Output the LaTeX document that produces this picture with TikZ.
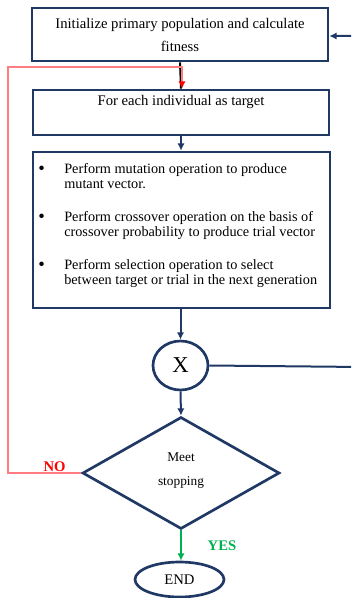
\documentclass[tikz,border=0pt]{standalone}
\usepackage{fontspec}
\setmainfont{Liberation Serif}
\usetikzlibrary{shapes.geometric,arrows.meta}
\definecolor{navy}{HTML}{1F3864}
\definecolor{pinkred}{HTML}{FF7C80}
\definecolor{yesgreen}{HTML}{00B050}
\newcommand{\bigbul}{\raisebox{-0.3pt}{\fontsize{14}{14}\selectfont\textbullet}}
\begin{document}
\begin{tikzpicture}[x=0.75pt,y=-0.75pt,
  boxstyle/.style={draw=navy,line width=2pt,rectangle,inner sep=0pt,fill=white},
  flow/.style={draw=navy,line width=1.5pt,-{Latex[length=5.5pt,width=5.5pt]}},
  maintext/.style={font=\fontsize{11}{17.25}\selectfont},
]
\useasboundingbox (0,0) rectangle (351,598);
\clip (0,0) rectangle (351,598);

% nodes
\node[boxstyle,minimum width=222pt,minimum height=39.75pt,align=center,maintext] (init) at (180,34.5)
  {Initialize primary population and calculate\\fitness};
\node[boxstyle,minimum width=222pt,minimum height=33.75pt] (each) at (181,112.5) {};
\node[maintext,anchor=center] (eachtxt) at (181,102) {For each individual as target};

\node[boxstyle,minimum width=222.75pt,minimum height=117pt] (ops) at (181.5,230) {};
\node[anchor=north west,inner sep=0pt,font=\fontsize{10.7}{11.25}\selectfont] (opstxt) at (38,163)
{\begin{tabular}{@{}p{19.5pt}@{}l@{}}
\bigbul & Perform mutation operation to produce\\
 & mutant vector.\\[13.5pt]
\bigbul & Perform crossover operation on the basis of\\
 & crossover probability to produce trial vector\\[13.5pt]
\bigbul & Perform selection operation to select\\
 & between target or trial in the next generation
\end{tabular}};

\node[draw=navy,line width=2pt,ellipse,minimum width=41.25pt,minimum height=36.75pt,inner sep=0pt,font=\fontsize{17}{17}\selectfont] (x) at (180.5,365.5) {X};

\node[draw=navy,line width=2pt,diamond,minimum width=147.75pt,minimum height=84pt,aspect=1.76,inner sep=0pt] (stop) at (181,473) {};
\node[font=\fontsize{10}{18}\selectfont,align=center] (stoptxt) at (181,471) {Meet\\stopping};

\node[draw=navy,line width=2pt,ellipse,minimum width=66.75pt,minimum height=26.25pt,inner sep=0pt,font=\fontsize{11}{11}\selectfont] (end) at (179.5,579.5) {END};

\node[font=\fontsize{11}{11}\selectfont\bfseries,text=red] (no) at (54.5,467) {NO};
\node[font=\fontsize{11}{11}\selectfont\bfseries,text=yesgreen] (yes) at (222,546) {YES};

% coordinates
\coordinate (loopL) at (8,473);
\coordinate (loopT) at (8,67);
\coordinate (loopJ) at (182,67);
\coordinate (backR) at (362,367);
\coordinate (backT) at (362,36);

% connectors
\draw[draw=black,line width=1.5pt] (init.south) -- (each.north);
\draw[draw=pinkred,line width=1.2pt,-{Latex[length=5.5pt,width=5.5pt,color=red]}]
  (stop.west) -- (loopL) -- (loopT) -- (loopJ) -- (loopJ |- each.north);
\draw[flow] (each.south) -- (ops.north -| each.south);
\draw[flow] (ops.south -| x.north) -- (x.north);
\draw[flow] (x.south) -- (stop.north);
\draw[draw=yesgreen,line width=1.2pt,-{Latex[length=5.5pt,width=5.5pt]}] (stop.south) -- (end.north -| stop.south);
\draw[flow] (x.east) -- (backR) -- (backT) -- (init.east |- backT);
\end{tikzpicture}
\end{document}
